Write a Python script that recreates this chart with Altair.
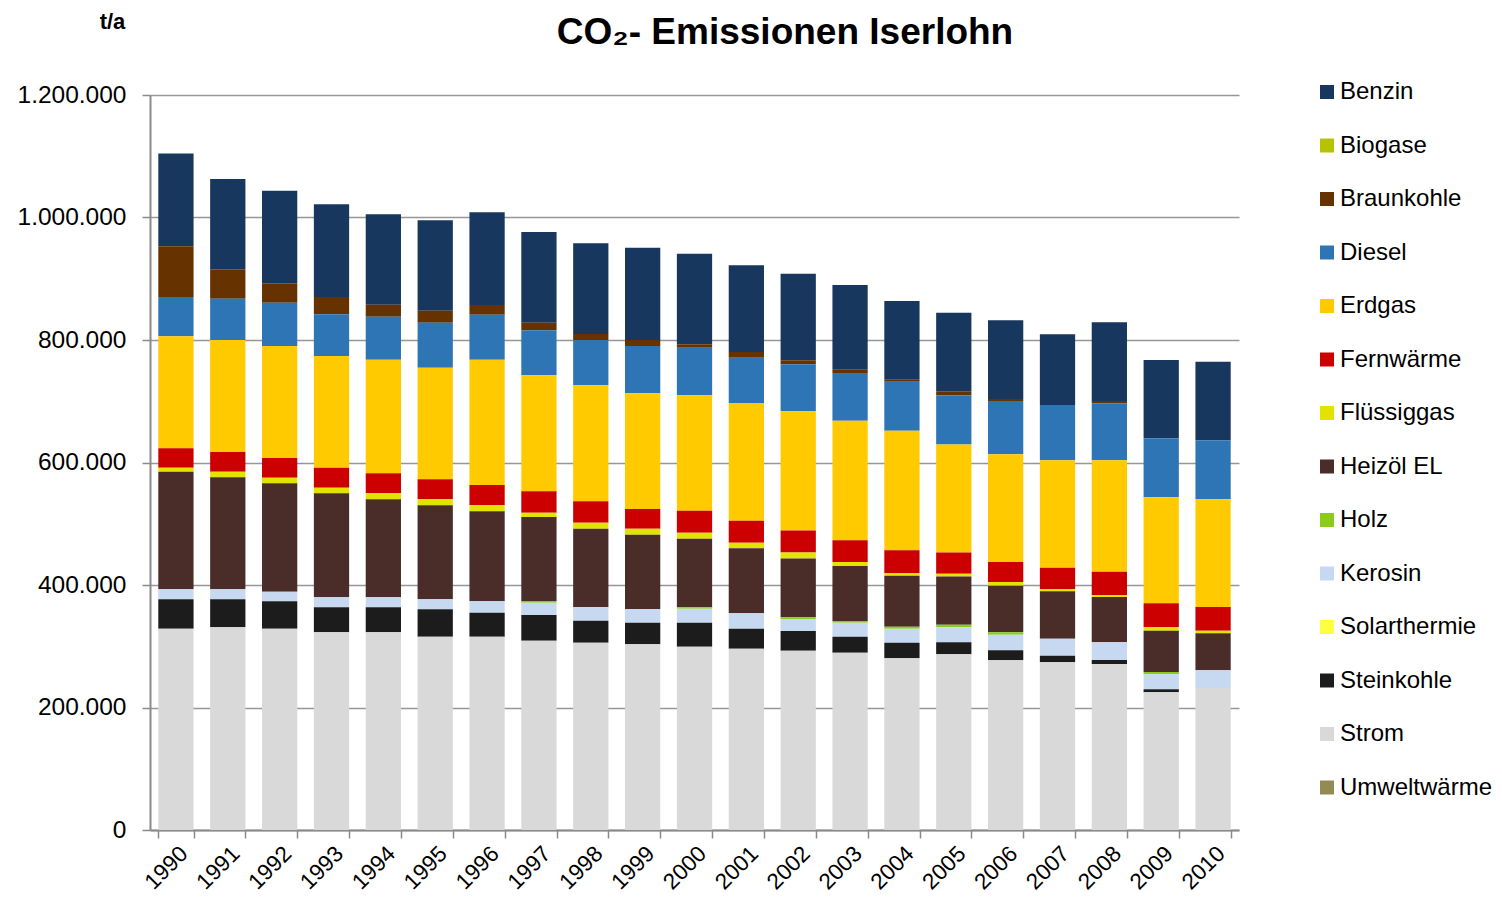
import altair as alt
import pandas as pd

# ---------------- data (values in 1000 t/a) ----------------
years = [str(y) for y in range(1990, 2011)]

categories = ["Benzin", "Biogase", "Braunkohle", "Diesel", "Erdgas", "Fernwärme",
              "Flüssiggas", "Heizöl EL", "Holz", "Kerosin", "Solarthermie",
              "Steinkohle", "Strom", "Umweltwärme"]

colors = ["#17375E", "#B5C300", "#663300", "#2E75B6", "#FFCA00", "#CC0000",
          "#E3E300", "#4A2C28", "#8BCB1B", "#C6D9F1", "#FFFF40",
          "#1C1C1C", "#D9D9D9", "#948A54"]

benzin = [151.3, 147.5, 151.2, 151.4, 147.6, 147.6, 151.4, 148.0, 148.1, 150.7, 147.9,
          141.5, 141.1, 138.3, 128.5, 127.9, 128.5, 115.4, 128.5, 127.8, 128.4]
biogase = [0, 0, 0, 0, 0, 0, 0, 0, 0, 0, 0, 0, 0, 0, 0, 0, 0, 0, 0, 0, 0]
braunkohle = [82.8, 48.0, 31.7, 28.2, 19.6, 19.5, 15.8, 12.5, 9.8, 9.8, 5.6,
              9.3, 6.5, 6.5, 3.3, 7.0, 3.3, 0, 3.8, 0, 0]
diesel = [64.2, 67.4, 70.7, 68.1, 70.2, 73.5, 73.5, 73.4, 74.0, 77.2, 77.7,
          74.0, 76.8, 76.8, 80.0, 80.0, 87.0, 90.3, 93.0, 96.3, 96.3]
erdgas = [182.8, 182.9, 182.9, 182.4, 185.4, 182.2, 204.5, 189.4, 189.4, 188.9, 188.4,
          192.1, 194.8, 195.2, 195.2, 176.3, 175.9, 175.4, 181.9, 173.1, 175.8]
fernwaerme = [31.8, 32.1, 32.1, 32.6, 32.7, 32.7, 33.2, 35.0, 34.9, 32.2, 35.9,
              35.9, 35.9, 35.5, 37.6, 34.9, 32.6, 34.7, 38.0, 38.7, 38.7]
fluessiggas = [6.5, 9.2, 9.2, 9.2, 9.8, 9.8, 9.8, 7.0, 9.8, 9.8, 9.8,
               9.2, 9.8, 6.5, 3.9, 4.3, 6.0, 3.8, 3.3, 6.0, 4.3]
heizoel = [192.0, 182.8, 176.9, 169.8, 160.0, 153.5, 146.9, 137.1, 127.8, 121.3, 112.0,
           106.1, 95.8, 89.8, 83.3, 79.0, 76.1, 77.4, 74.0, 67.4, 60.4]
holz = [0, 0, 0, 0, 0, 0, 0, 2.8, 0, 0, 2.3,
        0, 2.8, 2.7, 3.2, 4.0, 3.9, 0, 0, 3.8, 0]
kerosin = [16.4, 16.4, 15.7, 16.3, 16.3, 16.3, 18.6, 20.1, 22.4, 22.3, 22.8,
           25.1, 19.6, 22.9, 22.9, 24.5, 25.5, 27.7, 28.8, 24.5, 28.9]
solarthermie = [0, 0, 0, 0, 0, 0, 0, 0, 0, 0, 0, 0, 0, 0, 0, 0, 0, 0, 0, 0, 0]
steinkohle = [47.9, 45.7, 44.7, 40.8, 40.8, 44.7, 39.2, 41.9, 35.9, 35.3, 39.2,
              32.7, 32.2, 26.1, 25.5, 19.5, 16.3, 10.8, 6.6, 4.9, 0]
strom = [328.7, 330.9, 328.7, 322.8, 322.8, 315.6, 315.6, 309.1, 305.8, 303.2, 299.3,
         296.0, 292.7, 289.5, 280.3, 286.9, 277.1, 273.8, 271.0, 224.8, 231.8]
umweltwaerme = [0, 0, 0, 0, 0, 0, 0, 0, 0, 0, 0, 0, 0, 0, 0, 0, 0, 0, 0, 0, 0]

series = {
    "Benzin": benzin, "Biogase": biogase, "Braunkohle": braunkohle, "Diesel": diesel,
    "Erdgas": erdgas, "Fernwärme": fernwaerme, "Flüssiggas": fluessiggas,
    "Heizöl EL": heizoel, "Holz": holz, "Kerosin": kerosin, "Solarthermie": solarthermie,
    "Steinkohle": steinkohle, "Strom": strom, "Umweltwärme": umweltwaerme,
}

y_ticks = [0, 200000, 400000, 600000, 800000, 1000000, 1200000]
title_text = "CO₂- Emissionen Iserlohn"

rows = []
n = len(categories)
for i, cat in enumerate(categories):
    for yr, v in zip(years, series[cat]):
        rows.append({"Jahr": yr, "Energieträger": cat, "t": v * 1000, "rank": n - 1 - i})
df = pd.DataFrame(rows)

FONT = "Liberation Sans"

bars = alt.Chart(df).mark_bar().encode(
    x=alt.X("Jahr:N", sort=years,
            scale=alt.Scale(paddingInner=0.32, paddingOuter=0.16),
            axis=alt.Axis(title=None, labelAngle=-45, labelFontSize=22.5, labelFont=FONT,
                          labelColor="#000000", tickBand="extent", tickSize=8,
                          tickColor="#8A8A8A", tickWidth=1.5, domainColor="#8A8A8A",
                          domainWidth=2, labelPadding=4)),
    y=alt.Y("t:Q", stack="zero",
            scale=alt.Scale(domain=[0, 1200000], nice=False),
            axis=alt.Axis(title="t/a", values=y_ticks,
                          labelExpr="replace(format(datum.value, ','), /,/g, '.')",
                          labelFontSize=24.5, labelFont=FONT, labelColor="#000000",
                          labelPadding=16, tickSize=8, tickColor="#8A8A8A", tickWidth=1.5,
                          domainColor="#8A8A8A", domainWidth=2,
                          grid=True, gridColor="#969696", gridWidth=1.5,
                          titleAngle=0, titleX=-38, titleY=-67, titleAlign="center",
                          titleBaseline="alphabetic", titleFontSize=22, titleFont=FONT,
                          titleFontWeight="bold", titleColor="#000000")),
    color=alt.Color("Energieträger:N",
                    scale=alt.Scale(domain=categories, range=colors),
                    legend=alt.Legend(title=None, orient="none", legendX=1165, legendY=-15,
                                      symbolType="square", symbolSize=196,
                                      symbolStrokeWidth=0, labelFontSize=24,
                                      labelFont=FONT, labelColor="#000000",
                                      rowPadding=29.5, labelOffset=1, padding=0)),
    order=alt.Order("rank:Q", sort="ascending"),
)

title = alt.Chart(pd.DataFrame({"label": [title_text]})).mark_text(
    font=FONT, fontSize=37, fontWeight="bold", color="#000000",
    align="center", baseline="alphabetic"
).encode(text="label:N", x=alt.value(635), y=alt.value(-51))

chart = alt.layer(bars, title).properties(
    width=1089, height=735,
    padding={"left": 142, "top": 87, "right": 255, "bottom": 68},
    autosize=alt.AutoSizeParams(type="none"),
).configure_view(strokeWidth=0)

chart.save("out.html", embed_options={"renderer": "svg", "actions": False})
